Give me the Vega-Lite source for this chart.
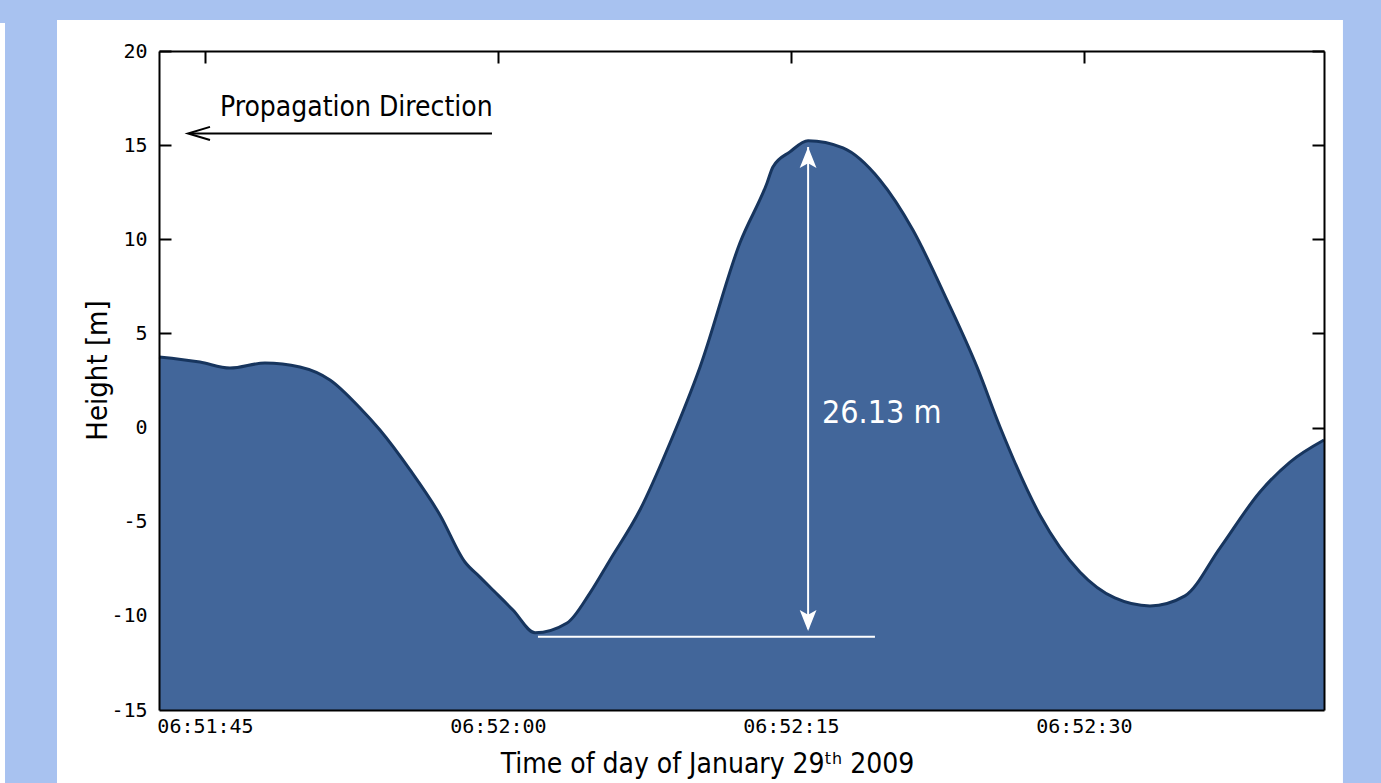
{
  "$schema": "https://vega.github.io/schema/vega-lite/v6.json",
  "width": 1165,
  "height": 659,
  "autosize": {"type": "none"},
  "padding": {"left": 159, "top": 51, "right": 57, "bottom": 73},
  "background": "#a8c2f0",
  "config": {"view": {"stroke": null}, "axis": {"grid": false}},
  "datasets": {
    "panel": [
      {"x1": "2009-01-29T06:51:37.422Z", "x2": "2009-01-29T06:52:43.270Z", "top": 21.646, "bottom": -20},
      {"x1": "2009-01-29T06:51:34.250Z", "x2": "2009-01-29T06:51:34.760Z", "top": 21.487, "bottom": -20}
    ],
    "wave": [
      {"time": "2009-01-29T06:51:42.645Z", "h": 3.75},
      {"time": "2009-01-29T06:51:44.740Z", "h": 3.48},
      {"time": "2009-01-29T06:51:46.280Z", "h": 3.16},
      {"time": "2009-01-29T06:51:48.070Z", "h": 3.43},
      {"time": "2009-01-29T06:51:49.860Z", "h": 3.22},
      {"time": "2009-01-29T06:51:51.400Z", "h": 2.53},
      {"time": "2009-01-29T06:51:52.940Z", "h": 1.04},
      {"time": "2009-01-29T06:51:53.960Z", "h": -0.13},
      {"time": "2009-01-29T06:51:55.500Z", "h": -2.25},
      {"time": "2009-01-29T06:51:57.030Z", "h": -4.64},
      {"time": "2009-01-29T06:51:58.310Z", "h": -7.14},
      {"time": "2009-01-29T06:51:59.080Z", "h": -7.94},
      {"time": "2009-01-29T06:51:59.590Z", "h": -8.47},
      {"time": "2009-01-29T06:52:00.770Z", "h": -9.69},
      {"time": "2009-01-29T06:52:01.900Z", "h": -10.9},
      {"time": "2009-01-29T06:52:03.540Z", "h": -10.38},
      {"time": "2009-01-29T06:52:04.710Z", "h": -8.79},
      {"time": "2009-01-29T06:52:05.740Z", "h": -7.03},
      {"time": "2009-01-29T06:52:07.270Z", "h": -4.38},
      {"time": "2009-01-29T06:52:08.810Z", "h": -0.82},
      {"time": "2009-01-29T06:52:10.350Z", "h": 3.22},
      {"time": "2009-01-29T06:52:12.390Z", "h": 9.8},
      {"time": "2009-01-29T06:52:13.780Z", "h": 12.99},
      {"time": "2009-01-29T06:52:14.080Z", "h": 13.84},
      {"time": "2009-01-29T06:52:14.950Z", "h": 14.64},
      {"time": "2009-01-29T06:52:15.880Z", "h": 15.23},
      {"time": "2009-01-29T06:52:17.670Z", "h": 14.85},
      {"time": "2009-01-29T06:52:19.560Z", "h": 13.15},
      {"time": "2009-01-29T06:52:21.250Z", "h": 10.49},
      {"time": "2009-01-29T06:52:22.990Z", "h": 6.78},
      {"time": "2009-01-29T06:52:24.530Z", "h": 3.22},
      {"time": "2009-01-29T06:52:25.710Z", "h": 0.03},
      {"time": "2009-01-29T06:52:27.750Z", "h": -4.64},
      {"time": "2009-01-29T06:52:29.800Z", "h": -7.67},
      {"time": "2009-01-29T06:52:31.590Z", "h": -9.05},
      {"time": "2009-01-29T06:52:33.390Z", "h": -9.47},
      {"time": "2009-01-29T06:52:35.180Z", "h": -8.94},
      {"time": "2009-01-29T06:52:36.970Z", "h": -6.4},
      {"time": "2009-01-29T06:52:39.020Z", "h": -3.42},
      {"time": "2009-01-29T06:52:40.560Z", "h": -1.83},
      {"time": "2009-01-29T06:52:42.300Z", "h": -0.66}
    ],
    "whiteLines": [
      {"t1": "2009-01-29T06:52:15.883Z", "t2": "2009-01-29T06:52:15.883Z", "h1": 14.9, "h2": -10.7},
      {"t1": "2009-01-29T06:52:02.050Z", "t2": "2009-01-29T06:52:19.306Z", "h1": -11.11, "h2": -11.11}
    ],
    "blackLines": [
      {"t1": "2009-01-29T06:51:44.232Z", "t2": "2009-01-29T06:51:59.695Z", "h1": 15.62, "h2": 15.62}
    ],
    "headUp": [{"t": "2009-01-29T06:52:15.883Z", "h": 14.34}],
    "headDown": [{"t": "2009-01-29T06:52:15.883Z", "h": -10.25}],
    "headLeft": [{"t": "2009-01-29T06:51:44.693Z", "h": 15.62}],
    "blackText": [{"t": "2009-01-29T06:51:45.768Z", "h": 16.55, "label": "Propagation Direction"}],
    "whiteText": [{"t": "2009-01-29T06:52:16.592Z", "h": 0.22, "label": "26.13 m"}]
  },
  "resolve": {"axis": {"x": "independent", "y": "independent"}},
  "layer": [
    {
      "data": {"name": "panel"},
      "mark": {"type": "rect", "color": "#ffffff", "clip": false},
      "encoding": {
        "x": {"field": "x1", "type": "temporal", "scale": {"type": "utc", "domain": [{"year": 2009, "month": 1, "date": 29, "hours": 6, "minutes": 51, "seconds": 42, "milliseconds": 645, "utc": true}, {"year": 2009, "month": 1, "date": 29, "hours": 6, "minutes": 52, "seconds": 42, "milliseconds": 300, "utc": true}]}, "axis": null},
        "x2": {"field": "x2"},
        "y": {"field": "top", "type": "quantitative", "scale": {"domain": [-15, 20], "nice": false, "zero": false}, "axis": null},
        "y2": {"field": "bottom"}
      }
    },
    {
      "data": {"name": "wave"},
      "mark": {"type": "area", "color": "#42669a", "opacity": 1, "interpolate": "monotone"},
      "encoding": {
        "x": {"field": "time", "type": "temporal", "scale": {"type": "utc", "domain": [{"year": 2009, "month": 1, "date": 29, "hours": 6, "minutes": 51, "seconds": 42, "milliseconds": 645, "utc": true}, {"year": 2009, "month": 1, "date": 29, "hours": 6, "minutes": 52, "seconds": 42, "milliseconds": 300, "utc": true}]},
          "axis": {
            "orient": "bottom",
            "zindex": 1,
            "values": [
              {"year": 2009, "month": 1, "date": 29, "hours": 6, "minutes": 51, "seconds": 45, "utc": true},
              {"year": 2009, "month": 1, "date": 29, "hours": 6, "minutes": 52, "seconds": 0, "utc": true},
              {"year": 2009, "month": 1, "date": 29, "hours": 6, "minutes": 52, "seconds": 15, "utc": true},
              {"year": 2009, "month": 1, "date": 29, "hours": 6, "minutes": 52, "seconds": 30, "utc": true}
            ],
            "format": "%H:%M:%S",
            "ticks": false,
            "labelFont": "DejaVu Sans Mono",
            "labelFontSize": 20,
            "labelColor": "#000000",
            "labelPadding": 6,
            "labelBaseline": "top",
            "labelFlush": false,
            "labelOverlap": false,
            "domain": true,
            "domainColor": "#000000",
            "domainWidth": 2,
            "title": "Time of day of January 29ᵗʰ 2009",
            "titleFont": "DejaVu Sans Condensed",
            "titleFontSize": 28,
            "titleFontWeight": "normal",
            "titleColor": "#000000",
            "titleX": 548,
            "titleY": 62,
            "titleAlign": "center",
            "titleBaseline": "alphabetic"
          }
        },
        "y": {"field": "h", "type": "quantitative", "scale": {"domain": [-15, 20], "nice": false, "zero": false},
          "axis": {
            "orient": "left",
            "zindex": 1,
            "values": [-15, -10, -5, 0, 5, 10, 15, 20],
            "labelExpr": "'' + datum.value",
            "tickSize": -12,
            "tickWidth": 2,
            "tickColor": {"condition": {"test": "datum.value < 4", "value": "transparent"}, "value": "#000000"},
            "labelFont": "DejaVu Sans Mono",
            "labelFontSize": 20,
            "labelColor": "#000000",
            "labelPadding": 24,
            "labelFlush": false,
            "labelOverlap": false,
            "domainColor": "#000000",
            "domainWidth": 2,
            "title": "Height [m]",
            "titleFont": "DejaVu Sans Condensed",
            "titleFontSize": 29,
            "titleFontWeight": "normal",
            "titleColor": "#000000",
            "titleAngle": 270,
            "titleX": -53,
            "titleY": 319,
            "titleAlign": "center",
            "titleBaseline": "alphabetic"
          }
        },
        "y2": {"datum": -15}
      }
    },
    {
      "data": {"name": "wave"},
      "mark": {"type": "line", "color": "#17355e", "strokeWidth": 3, "interpolate": "monotone"},
      "encoding": {
        "x": {"field": "time", "type": "temporal", "scale": {"type": "utc", "domain": [{"year": 2009, "month": 1, "date": 29, "hours": 6, "minutes": 51, "seconds": 42, "milliseconds": 645, "utc": true}, {"year": 2009, "month": 1, "date": 29, "hours": 6, "minutes": 52, "seconds": 42, "milliseconds": 300, "utc": true}]},
          "axis": {
            "orient": "top",
            "zindex": 1,
            "values": [
              {"year": 2009, "month": 1, "date": 29, "hours": 6, "minutes": 51, "seconds": 45, "utc": true},
              {"year": 2009, "month": 1, "date": 29, "hours": 6, "minutes": 52, "seconds": 0, "utc": true},
              {"year": 2009, "month": 1, "date": 29, "hours": 6, "minutes": 52, "seconds": 15, "utc": true},
              {"year": 2009, "month": 1, "date": 29, "hours": 6, "minutes": 52, "seconds": 30, "utc": true}
            ],
            "labels": false,
            "tickSize": -12,
            "tickWidth": 2,
            "tickColor": "#000000",
            "domainColor": "#000000",
            "domainWidth": 2,
            "title": null
          }
        },
        "y": {"field": "h", "type": "quantitative", "scale": {"domain": [-15, 20], "nice": false, "zero": false},
          "axis": {
            "orient": "right",
            "zindex": 1,
            "values": [-15, -10, -5, 0, 5, 10, 15, 20],
            "labels": false,
            "tickSize": -12,
            "tickWidth": 2,
            "tickColor": {"condition": {"test": "datum.value < -1", "value": "transparent"}, "value": "#000000"},
            "domainColor": "#000000",
            "domainWidth": 2,
            "title": null
          }
        }
      }
    },
    {
      "data": {"name": "whiteLines"},
      "mark": {"type": "rule", "color": "#ffffff", "strokeWidth": 2},
      "encoding": {
        "x": {"field": "t1", "type": "temporal", "scale": {"type": "utc", "domain": [{"year": 2009, "month": 1, "date": 29, "hours": 6, "minutes": 51, "seconds": 42, "milliseconds": 645, "utc": true}, {"year": 2009, "month": 1, "date": 29, "hours": 6, "minutes": 52, "seconds": 42, "milliseconds": 300, "utc": true}]}, "axis": null},
        "x2": {"field": "t2"},
        "y": {"field": "h1", "type": "quantitative", "scale": {"domain": [-15, 20], "nice": false, "zero": false}, "axis": null},
        "y2": {"field": "h2"}
      }
    },
    {
      "data": {"name": "blackLines"},
      "mark": {"type": "rule", "color": "#000000", "strokeWidth": 2},
      "encoding": {
        "x": {"field": "t1", "type": "temporal", "scale": {"type": "utc", "domain": [{"year": 2009, "month": 1, "date": 29, "hours": 6, "minutes": 51, "seconds": 42, "milliseconds": 645, "utc": true}, {"year": 2009, "month": 1, "date": 29, "hours": 6, "minutes": 52, "seconds": 42, "milliseconds": 300, "utc": true}]}, "axis": null},
        "x2": {"field": "t2"},
        "y": {"field": "h1", "type": "quantitative", "scale": {"domain": [-15, 20], "nice": false, "zero": false}, "axis": null},
        "y2": {"field": "h2"}
      }
    },
    {
      "data": {"name": "headUp"},
      "mark": {"type": "point", "shape": "M0,-1L0.8,1L0,0.55L-0.8,1Z", "size": 441, "filled": true, "color": "#ffffff", "opacity": 1},
      "encoding": {
        "x": {"field": "t", "type": "temporal", "scale": {"type": "utc", "domain": [{"year": 2009, "month": 1, "date": 29, "hours": 6, "minutes": 51, "seconds": 42, "milliseconds": 645, "utc": true}, {"year": 2009, "month": 1, "date": 29, "hours": 6, "minutes": 52, "seconds": 42, "milliseconds": 300, "utc": true}]}, "axis": null},
        "y": {"field": "h", "type": "quantitative", "scale": {"domain": [-15, 20], "nice": false, "zero": false}, "axis": null}
      }
    },
    {
      "data": {"name": "headDown"},
      "mark": {"type": "point", "shape": "M0,1L0.8,-1L0,-0.55L-0.8,-1Z", "size": 441, "filled": true, "color": "#ffffff", "opacity": 1},
      "encoding": {
        "x": {"field": "t", "type": "temporal", "scale": {"type": "utc", "domain": [{"year": 2009, "month": 1, "date": 29, "hours": 6, "minutes": 51, "seconds": 42, "milliseconds": 645, "utc": true}, {"year": 2009, "month": 1, "date": 29, "hours": 6, "minutes": 52, "seconds": 42, "milliseconds": 300, "utc": true}]}, "axis": null},
        "y": {"field": "h", "type": "quantitative", "scale": {"domain": [-15, 20], "nice": false, "zero": false}, "axis": null}
      }
    },
    {
      "data": {"name": "headLeft"},
      "mark": {"type": "point", "shape": "M1,-0.6L-1,0L1,0.6", "size": 484, "filled": false, "color": "#000000", "strokeWidth": 2, "opacity": 1},
      "encoding": {
        "x": {"field": "t", "type": "temporal", "scale": {"type": "utc", "domain": [{"year": 2009, "month": 1, "date": 29, "hours": 6, "minutes": 51, "seconds": 42, "milliseconds": 645, "utc": true}, {"year": 2009, "month": 1, "date": 29, "hours": 6, "minutes": 52, "seconds": 42, "milliseconds": 300, "utc": true}]}, "axis": null},
        "y": {"field": "h", "type": "quantitative", "scale": {"domain": [-15, 20], "nice": false, "zero": false}, "axis": null}
      }
    },
    {
      "data": {"name": "blackText"},
      "mark": {"type": "text", "align": "left", "baseline": "alphabetic", "font": "DejaVu Sans Condensed", "fontSize": 28, "color": "#000000"},
      "encoding": {
        "x": {"field": "t", "type": "temporal", "scale": {"type": "utc", "domain": [{"year": 2009, "month": 1, "date": 29, "hours": 6, "minutes": 51, "seconds": 42, "milliseconds": 645, "utc": true}, {"year": 2009, "month": 1, "date": 29, "hours": 6, "minutes": 52, "seconds": 42, "milliseconds": 300, "utc": true}]}, "axis": null},
        "y": {"field": "h", "type": "quantitative", "scale": {"domain": [-15, 20], "nice": false, "zero": false}, "axis": null},
        "text": {"field": "label"}
      }
    },
    {
      "data": {"name": "whiteText"},
      "mark": {"type": "text", "align": "left", "baseline": "alphabetic", "font": "DejaVu Sans Condensed", "fontSize": 32, "color": "#ffffff"},
      "encoding": {
        "x": {"field": "t", "type": "temporal", "scale": {"type": "utc", "domain": [{"year": 2009, "month": 1, "date": 29, "hours": 6, "minutes": 51, "seconds": 42, "milliseconds": 645, "utc": true}, {"year": 2009, "month": 1, "date": 29, "hours": 6, "minutes": 52, "seconds": 42, "milliseconds": 300, "utc": true}]}, "axis": null},
        "y": {"field": "h", "type": "quantitative", "scale": {"domain": [-15, 20], "nice": false, "zero": false}, "axis": null},
        "text": {"field": "label"}
      }
    }
  ]
}
